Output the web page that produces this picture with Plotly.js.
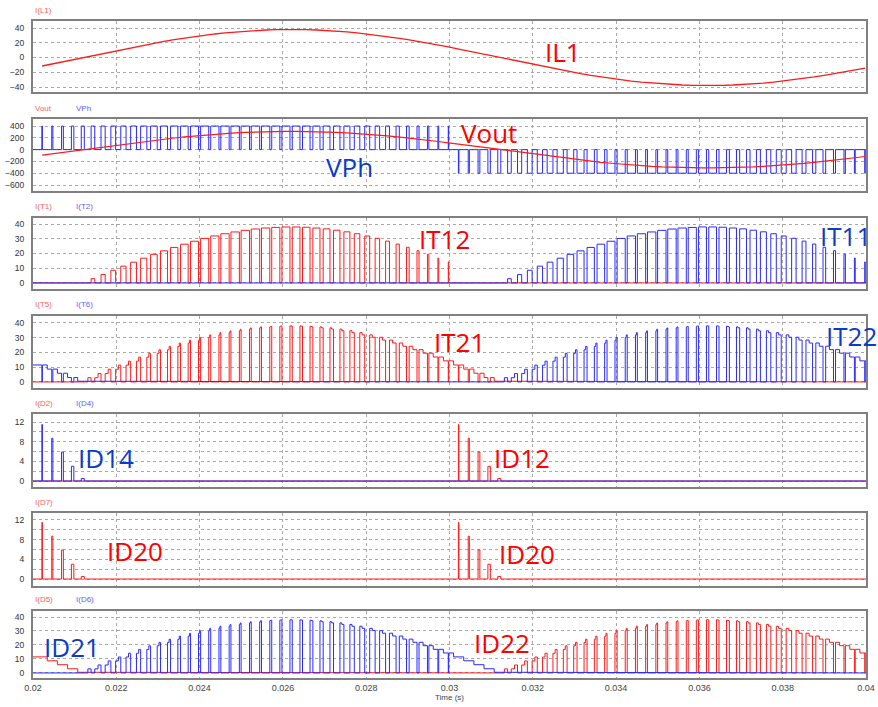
<!DOCTYPE html>
<html><head><meta charset="utf-8">
<script src="https://cdn.plot.ly/plotly-3.0.1.min.js"></script>
<style>html,body{margin:0;padding:0;background:#fff}#chart{width:878px;height:707px}</style>
</head><body><div id="chart"></div>
<script>
// ---- data (one 50 Hz cycle, 82 switching periods) ----
const tStart = 0.02, tEnd = 0.04;
const periodsPerCycle = 82;
const vdc = 400;
// inductor current I(L1) at each switching period centre (A)
const il1 = [
 -11.5,-8.7,-5.9,-3.0,-0.5,2.9,5.7,8.6,11.4,14.1,
 16.8,19.4,21.8,24.1,26.3,28.3,30.2,31.9,33.4,34.6,
 35.7,36.6,37.3,37.7,38.0,38.0,37.8,37.3,36.7,35.8,
 34.7,33.4,31.9,30.3,28.4,26.4,24.2,21.9,19.5,16.9,
 14.3,
 11.5,8.7,5.9,3.0,0.5,-2.9,-5.7,-8.6,-11.4,-14.1,
 -16.8,-19.4,-21.8,-24.1,-26.3,-28.3,-30.2,-31.9,-33.4,-34.6,
 -35.7,-36.6,-37.3,-37.7,-38.0,-38.0,-37.8,-37.3,-36.7,-35.8,
 -34.7,-33.4,-31.9,-30.3,-28.4,-26.4,-24.2,-21.9,-19.5,-16.9,
 -14.3];
// output voltage Vout at each period centre (V)
const vout = [
 -94,-71,-48,-24,0,23,47,70,93,115,137,158,178,197,215,231,246,260,272,283,
 292,299,304,308,310,310,308,304,299,292,283,273,260,247,232,215,198,179,159,138,116,
 94,71,48,24,0,-23,-47,-70,-93,-115,-137,-158,-178,-197,-215,-231,-246,-260,-272,-283,
 -292,-299,-304,-308,-310,-310,-308,-304,-299,-292,-283,-273,-260,-247,-232,-215,-198,-179,-159,-138,-116];
// VPh duty per period of a half cycle (same in both halves)
const duty = [
 0.05,0.11,0.18,0.24,0.30,0.36,0.41,0.47,0.52,0.57,
 0.61,0.65,0.69,0.72,0.75,0.78,0.80,0.81,0.82,0.83,
 0.83,0.83,0.82,0.80,0.79,0.76,0.74,0.70,0.67,0.63,
 0.59,0.54,0.49,0.44,0.38,0.32,0.26,0.20,0.14,0.08,0.04];

const RED = '#ff1a1a', BLUE = '#2a2aff';
const P = (tEnd - tStart) / periodsPerCycle;
const half = periodsPerCycle / 2;
const centre = k => tStart + (k + 0.9) * P;

function build(fn) {
  const x = [], y = [];
  for (let k = 0; k < periodsPerCycle; k++) {
    const c = centre(k), d = duty[k % half];
    const a = k === 0 ? tStart : c - P / 2;
    const b = c + P / 2;
    const s = c - d * P / 2, e = c + d * P / 2;
    const v = fn(k, il1[k], k < half);
    x.push(a, s, s, e, e, b);
    y.push(v[1], v[1], v[0], v[0], v[1], v[1]);
  }
  return {x, y};
}
const Z = [0, 0];
const sig = {
  vph: build((k, i, pos) => [pos ? vdc : -vdc, 0]),
  t1: build((k, i, pos) => pos && i > 0 ? [i, 0] : Z),
  t2: build((k, i, pos) => !pos && i < 0 ? [-i, 0] : Z),
  t5: build((k, i, pos) => i > 0 ? [0, i] : Z),
  t6: build((k, i, pos) => i < 0 ? [0, -i] : Z),
  d2: build((k, i, pos) => !pos && i > 0 ? [i, 0] : Z),
  d4: build((k, i, pos) => pos && i < 0 ? [-i, 0] : Z),
  d7: build((k, i, pos) => (pos && i < 0) || (!pos && i > 0) ? [Math.abs(i), 0] : Z),
  d5: build((k, i, pos) => i < 0 ? (pos ? [-i, -i] : [0, -i]) : Z),
  d6: build((k, i, pos) => i > 0 ? (pos ? [0, i] : [i, i]) : Z)
};
const centres = il1.map((_, k) => centre(k));

function tr(s, color, n, w) {
  return {type: 'scatter', mode: 'lines', x: s.x, y: s.y, xaxis: n === 1 ? 'x' : 'x' + n, yaxis: n === 1 ? 'y' : 'y' + n,
          line: {color, width: w || 1}, hoverinfo: 'skip'};
}
const data = [
  tr({x: centres, y: il1}, RED, 1, 1.3),
  tr(sig.vph, BLUE, 2),
  tr({x: centres, y: vout}, RED, 2, 1.2),
  tr(sig.t1, RED, 3), tr(sig.t2, BLUE, 3),
  tr(sig.t5, RED, 4), tr(sig.t6, BLUE, 4),
  tr(sig.d2, RED, 5), tr(sig.d4, BLUE, 5),
  tr(sig.d7, RED, 6),
  tr(sig.d5, RED, 7), tr(sig.d6, BLUE, 7)
];

const domains = [[0.8919, 1], [0.7412, 0.8508], [0.5921, 0.7002], [0.4414, 0.5510], [0.2907, 0.4018], [0.1400, 0.2511], [0, 0.1020]];
const yRanges = [[-46.8, 49.5], [-702, 519], [-4.1, 44.1], [-4.1, 44.7], [-1.22, 13.63], [-1.42, 13.4], [-3.6, 44.3]];
const yTicks = [[-40, -20, 0, 20, 40], [-600, -400, -200, 0, 200, 400], [0, 10, 20, 30, 40], [0, 10, 20, 30, 40], [0, 4, 8, 12], [0, 4, 8, 12], [0, 10, 20, 30, 40]];
const legendLabels = [[['I(L1)', RED]], [['Vout', RED], ['VPh', BLUE]], [['I(T1)', RED], ['I(T2)', BLUE]], [['I(T5)', RED], ['I(T6)', BLUE]],
  [['I(D2)', RED], ['I(D4)', BLUE]], [['I(D7)', RED]], [['I(D5)', RED], ['I(D6)', BLUE]]];

const GRID = '#a8a8a8', FRAME = '#808080';
const layout = {
  width: 878, height: 707, margin: {l: 33, r: 12, t: 21, b: 29},
  paper_bgcolor: '#fff', plot_bgcolor: '#fff', showlegend: false,
  font: {family: 'Liberation Sans, Arial, sans-serif', size: 9, color: '#333'},
  annotations: []
};
for (let i = 0; i < 7; i++) {
  const n = i + 1, xs = n === 1 ? '' : n, ys = n === 1 ? '' : n;
  layout['xaxis' + xs] = {
    domain: [0, 1], anchor: 'y' + ys, range: [tStart, tEnd], tickmode: 'linear', tick0: 0.02, dtick: 0.002,
    showgrid: true, gridcolor: GRID, griddash: 'dot', gridwidth: 1, zeroline: false,
    showline: true, mirror: true, linecolor: FRAME, linewidth: 2, ticks: '',
    showticklabels: n === 7, tickfont: {size: 9, color: '#444'}
  };
  if (n > 1) layout['xaxis' + xs].matches = 'x';
  if (n === 7) layout['xaxis7'].title = {text: 'Time (s)', font: {size: 8, color: '#444'}, standoff: 2};
  const ya = {
    domain: domains[i], anchor: 'x' + xs, range: yRanges[i], tickmode: 'array', tickvals: yTicks[i],
    showgrid: true, gridcolor: GRID, griddash: 'dot', gridwidth: 1, zeroline: false,
    showline: true, mirror: true, linecolor: FRAME, linewidth: 2, ticks: '', ticklabelstandoff: 5,
    tickfont: {size: 8.5, color: '#333'}
  };
  if (n === 5 || n === 6) {
    ya.tickmode = 'linear'; ya.tick0 = 0; ya.dtick = 4; delete ya.tickvals;
    ya.minor = {dtick: 2, showgrid: true, gridcolor: GRID, griddash: 'dot', gridwidth: 1};
  }
  layout['yaxis' + ys] = ya;
  legendLabels[i].forEach((lab, j) => {
    layout.annotations.push({xref: 'paper', yref: 'paper', x: j * 0.049, y: domains[i][1], yshift: 11,
      xanchor: 'left', yanchor: 'middle', showarrow: false, text: lab[0],
      font: {size: 8, color: lab[1] === RED ? '#ff6060' : '#6060ff'}});
  });
}
const TRED = '#ff0000', TBLUE = '#0a3cc8';
const bigText = [
  ['IL1', 0.03273, 7.5, 1, TRED], ['Vout', 0.03095, 281, 2, TRED], ['VPh', 0.02759, -295, 2, TBLUE],
  ['IT12', 0.02987, 29.8, 3, TRED], ['IT11', 0.03950, 31.9, 3, TBLUE],
  ['IT21', 0.03025, 27.1, 4, TRED], ['IT22', 0.03966, 31.2, 4, TBLUE],
  ['ID14', 0.02175, 4.7, 5, TBLUE], ['ID12', 0.03174, 4.7, 5, TRED],
  ['ID20', 0.02245, 5.7, 6, TRED], ['ID20', 0.03186, 5.1, 6, TRED],
  ['ID21', 0.02094, 18.6, 7, TBLUE], ['ID22', 0.03126, 21.4, 7, TRED]
];
bigText.forEach(([t, x, y, n, c]) => layout.annotations.push({
  xref: n === 1 ? 'x' : 'x' + n, yref: n === 1 ? 'y' : 'y' + n, x, y, text: t, showarrow: false,
  xanchor: 'center', yanchor: 'middle', font: {family: 'Open Sans, sans-serif', size: 26, color: c}
}));
Plotly.newPlot('chart', data, layout, {displayModeBar: false, staticPlot: true});
</script></body></html>
